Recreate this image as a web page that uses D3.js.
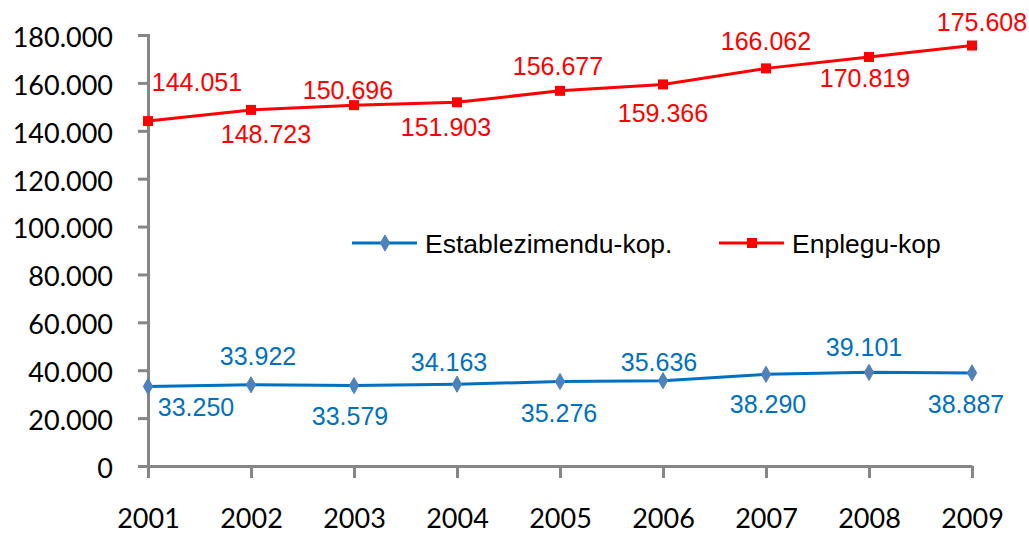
<!DOCTYPE html>
<html>
<head>
<meta charset="utf-8">
<script src="https://cdn.jsdelivr.net/npm/d3@7"></script>
<style>
  html, body { margin: 0; padding: 0; background: #ffffff; }
  svg { display: block; }
</style>
</head>
<body>
<svg id="chart" width="1029" height="535"></svg>
<script>
// Years on the category axis
const years = ["2001", "2002", "2003", "2004", "2005", "2006", "2007", "2008", "2009"];

// Number of establishments per year
const establezimenduKop = [33250, 33922, 33579, 34163, 35276, 35636, 38290, 39101, 38887];

// Number of jobs per year
const enpleguKop = [144051, 148723, 150696, 151903, 156677, 159366, 166062, 170819, 175608];

// Value-axis ticks
const yTicks = [0, 20000, 40000, 60000, 80000, 100000, 120000, 140000, 160000, 180000];

// Series names shown in the legend
const seriesNames = ["Establezimendu-kop.", "Enplegu-kop"];

// Hand-placed data-label offsets (pixels from each point)
const blueLabelNudge = [[48, 21], [7, -29], [-4, 30], [-8, -22], [-1, 31], [-4, -19], [2, 30], [-5, -25], [-6, 31]];
const redLabelNudge = [[49, -39], [15, 24], [-6, -15], [-11, 25], [-2, -25], [0, 29], [0, -27], [-4, 21], [10, -24]];

const svg = d3.select("#chart");

const x = d3.scalePoint().domain(years).range([148, 972]);
const y = d3.scaleLinear().domain([0, 180000]).range([466, 35]);

const fmt = v => d3.format(",")(v).replace(/,/g, ".");

const axisColor = "#868686";
const blue = "#0070C0";
const blueMarker = "#4F81BD";
const red = "#FF0000";

// Y axis
const yAxis = svg.append("g")
  .attr("transform", "translate(148,0)")
  .call(d3.axisLeft(y).tickValues(yTicks).tickSize(10).tickPadding(25).tickFormat(fmt));
yAxis.select(".domain").attr("stroke", axisColor).attr("stroke-width", 3);
yAxis.selectAll(".tick line").attr("stroke", axisColor).attr("stroke-width", 3);
yAxis.selectAll(".tick text")
  .attr("fill", "#000")
  .attr("font-family", "Lato, 'Open Sans', sans-serif")
  .attr("font-size", 27)
  .attr("dy", "0.42em");

// X axis
const xAxis = svg.append("g")
  .attr("transform", "translate(0,466)")
  .call(d3.axisBottom(x).tickSize(12).tickPadding(31).tickSizeOuter(0));
xAxis.select(".domain").attr("stroke", axisColor).attr("stroke-width", 3);
xAxis.selectAll(".tick line").attr("stroke", axisColor).attr("stroke-width", 3);
xAxis.selectAll(".tick text")
  .attr("fill", "#000")
  .attr("font-family", "Lato, 'Open Sans', sans-serif")
  .attr("font-size", 27);

const line = d3.line().x((d, i) => x(years[i])).y(d => y(d));

// Establishments series
svg.append("path")
  .datum(establezimenduKop)
  .attr("fill", "none")
  .attr("stroke", blue)
  .attr("stroke-width", 3)
  .attr("d", line);

const diamond = d3.symbol().type(d3.symbolDiamond).size(75);
svg.append("g").selectAll("path")
  .data(establezimenduKop)
  .join("path")
  .attr("d", diamond)
  .attr("transform", (d, i) => `translate(${x(years[i])},${y(d)})`)
  .attr("fill", blueMarker)
  .attr("stroke", blueMarker)
  .attr("stroke-width", 1);

// Jobs series
svg.append("path")
  .datum(enpleguKop)
  .attr("fill", "none")
  .attr("stroke", red)
  .attr("stroke-width", 3)
  .attr("d", line);

svg.append("g").selectAll("rect")
  .data(enpleguKop)
  .join("rect")
  .attr("x", (d, i) => x(years[i]) - 5)
  .attr("y", d => y(d) - 5)
  .attr("width", 10)
  .attr("height", 10)
  .attr("fill", red);

// Data labels
const labelFont = "'Liberation Sans', Arial, sans-serif";
svg.append("g").selectAll("text")
  .data(establezimenduKop)
  .join("text")
  .attr("x", (d, i) => x(years[i]) + blueLabelNudge[i][0])
  .attr("y", (d, i) => y(d) + blueLabelNudge[i][1])
  .attr("dy", "0.36em")
  .attr("text-anchor", "middle")
  .attr("font-family", labelFont)
  .attr("font-size", 25)
  .attr("fill", blue)
  .text(fmt);

svg.append("g").selectAll("text")
  .data(enpleguKop)
  .join("text")
  .attr("x", (d, i) => x(years[i]) + redLabelNudge[i][0])
  .attr("y", (d, i) => y(d) + redLabelNudge[i][1])
  .attr("dy", "0.36em")
  .attr("text-anchor", "middle")
  .attr("font-family", labelFont)
  .attr("font-size", 25)
  .attr("fill", red)
  .text(fmt);

// Legend
const legend = svg.append("g").attr("transform", "translate(0,243)");
const legendItems = [
  { name: seriesNames[0], color: blue, x0: 352, marker: "diamond" },
  { name: seriesNames[1], color: red, x0: 719, marker: "square" }
];
legendItems.forEach(item => {
  const g = legend.append("g").attr("transform", `translate(${item.x0},0)`);
  g.append("line").attr("x1", 0).attr("x2", 65).attr("y1", 0).attr("y2", 0)
    .attr("stroke", item.color).attr("stroke-width", 3);
  if (item.marker === "diamond") {
    g.append("path").attr("d", diamond).attr("transform", "translate(33,0)")
      .attr("fill", blueMarker).attr("stroke", blueMarker);
  } else {
    g.append("rect").attr("x", 28).attr("y", -5).attr("width", 10).attr("height", 10)
      .attr("fill", red);
  }
  g.append("text")
    .attr("x", 73)
    .attr("y", 0)
    .attr("dy", "0.36em")
    .attr("font-family", labelFont)
    .attr("font-size", 26.5)
    .attr("fill", "#000")
    .text(item.name);
});
</script>
</body>
</html>
